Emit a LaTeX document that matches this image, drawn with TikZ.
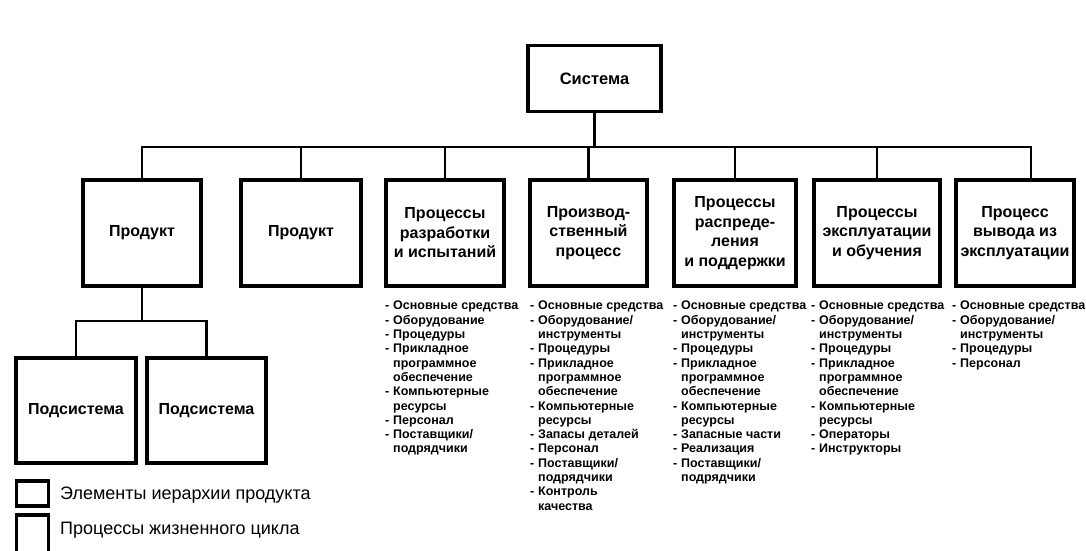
\documentclass[tikz,border=0pt]{standalone}
\usepackage{fontspec}
\setmainfont{Liberation Sans}
\newcommand\lsti[1]{\makebox[8pt][l]{-}#1}
\newcommand\lstc[1]{\hspace*{8pt}#1}
\begin{document}
\begin{tikzpicture}[x=1pt,y=-1pt,
  box/.style={draw, line width=3.4pt, inner sep=0pt, align=center,
    font=\fontsize{16}{19.5}\selectfont\bfseries},
  conn/.style={line width=2.8pt},
  lst/.style={anchor=north west, inner sep=0pt, align=left,
    font=\fontsize{12.5}{14.3}\selectfont\bfseries},
  leg/.style={anchor=west, inner sep=0pt, font=\fontsize{18}{20}\selectfont}]
\useasboundingbox (0,0) rectangle (1086,551);
\clip (0,0) rectangle (1086,551);

% top
\node[box, minimum width=133pt, minimum height=66pt, font=\fontsize{16.5}{19.5}\selectfont\bfseries] (sys) at (594.5,78.5) {Система};

% second row
\node[box, minimum width=118pt, minimum height=106pt] (p1) at (142,233) {Продукт};
\node[box, minimum width=120pt, minimum height=106pt] (p2) at (301,233) {Продукт};
\node[box, minimum width=118pt, minimum height=106pt] (b3) at (445,233) {Процессы\\разработки\\и испытаний};
\node[box, minimum width=117pt, minimum height=106pt] (b4) at (588.5,233) {Производ-\\ственный\\процесс};
\node[box, minimum width=122pt, minimum height=106pt] (b5) at (735,233) {Процессы\\распреде-\\ления\\и поддержки};
\node[box, minimum width=126pt, minimum height=106pt] (b6) at (877,233) {Процессы\\эксплуатации\\и обучения};
\node[box, minimum width=118pt, minimum height=106pt] (b7) at (1015,233) {Процесс\\вывода из\\эксплуатации};

% subsystems
\node[box, minimum width=120pt, minimum height=105pt] (s1) at (76,410.5) {Подсистема};
\node[box, minimum width=119pt, minimum height=105pt] (s2) at (206.5,410.5) {Подсистема};

% bus
\coordinate (busL) at (142,147);
\coordinate (j7) at (1031,147);
\coordinate (sub) at (0,321);
\draw[conn] (sys.south) -- (sys.south |- busL);
\draw[conn] (p1.north) -- (busL) -- (j7) -- (j7 |- b7.north);
\draw[conn] (p2.north) -- (p2.north |- busL);
\draw[conn] (b3.north) -- (b3.north |- busL);
\draw[conn] (b4.north) -- (b4.north |- busL);
\draw[conn] (b5.north) -- (b5.north |- busL);
\draw[conn] (b6.north) -- (b6.north |- busL);
\draw[conn] (p1.south) -- (p1.south |- sub);
\draw[conn] (s1.north) -- (s1.north |- sub) -- (s2.north |- sub) -- (s2.north);

% lists
\node[lst] (l3) at (385,301) {\lsti{Основные средства}\\
\lsti{Оборудование}\\
\lsti{Процедуры}\\
\lsti{Прикладное}\\
\lstc{программное}\\
\lstc{обеспечение}\\
\lsti{Компьютерные}\\
\lstc{ресурсы}\\
\lsti{Персонал}\\
\lsti{Поставщики/}\\
\lstc{подрядчики}};

\node[lst] (l4) at (530,301) {\lsti{Основные средства}\\
\lsti{Оборудование/}\\
\lstc{инструменты}\\
\lsti{Процедуры}\\
\lsti{Прикладное}\\
\lstc{программное}\\
\lstc{обеспечение}\\
\lsti{Компьютерные}\\
\lstc{ресурсы}\\
\lsti{Запасы деталей}\\
\lsti{Персонал}\\
\lsti{Поставщики/}\\
\lstc{подрядчики}\\
\lsti{Контроль}\\
\lstc{качества}};

\node[lst] (l5) at (673,301) {\lsti{Основные средства}\\
\lsti{Оборудование/}\\
\lstc{инструменты}\\
\lsti{Процедуры}\\
\lsti{Прикладное}\\
\lstc{программное}\\
\lstc{обеспечение}\\
\lsti{Компьютерные}\\
\lstc{ресурсы}\\
\lsti{Запасные части}\\
\lsti{Реализация}\\
\lsti{Поставщики/}\\
\lstc{подрядчики}};

\node[lst] (l6) at (811,301) {\lsti{Основные средства}\\
\lsti{Оборудование/}\\
\lstc{инструменты}\\
\lsti{Процедуры}\\
\lsti{Прикладное}\\
\lstc{программное}\\
\lstc{обеспечение}\\
\lsti{Компьютерные}\\
\lstc{ресурсы}\\
\lsti{Операторы}\\
\lsti{Инструкторы}};

\node[lst] (l7) at (952,301) {\lsti{Основные средства}\\
\lsti{Оборудование/}\\
\lstc{инструменты}\\
\lsti{Процедуры}\\
\lsti{Персонал}};

% legend
\node[box, minimum width=32pt, minimum height=25pt] (lg1) at (32.5,493.5) {};
\node[box, minimum width=32pt, minimum height=40pt] (lg2) at (32.5,535) {};
\node[leg] (lt1) at (60,495) {Элементы иерархии продукта};
\node[leg] (lt2) at (60,530) {Процессы жизненного цикла};
\end{tikzpicture}
\end{document}
